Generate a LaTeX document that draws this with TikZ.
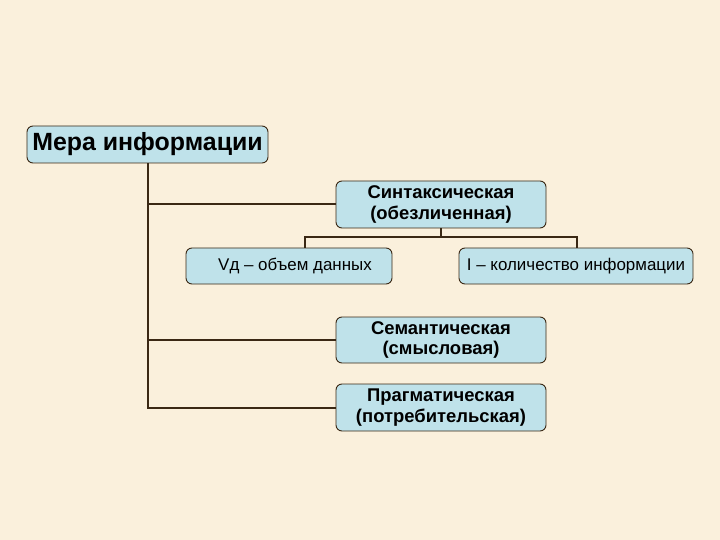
\documentclass[tikz,border=0pt]{standalone}
\usepackage{fontspec}
\setmainfont{Liberation Sans}
\usetikzlibrary{positioning}
\definecolor{pozadina}{HTML}{FAF0DC}
\definecolor{plava}{HTML}{BFE2EA}
\definecolor{smedja}{HTML}{3A2814}

\begin{document}
\begin{tikzpicture}[x=1bp, y=-1bp,
  box/.style={rectangle, rounded corners=6bp, draw=smedja, fill=plava, line width=0.9bp,
              inner sep=1bp, align=center, text=black},
  glavni/.style={box, font=\fontsize{25}{28}\selectfont\bfseries},
  vrsta/.style={box, font=\fontsize{18.5}{21}\selectfont\bfseries},
  mera/.style={box, font=\fontsize{17}{20}\selectfont},
  veza/.style={draw=smedja, line width=2bp}
]
\fill[pozadina] (0,0) rectangle (720,540);
\useasboundingbox (0,0) rectangle (720,540);

\node[glavni, minimum width=241bp, minimum height=37bp] (mi) at (147.5,144.5) {Мера информации};
\node[vrsta, minimum width=210bp, minimum height=47bp] (sint) at (441,204.5) {Синтаксическая\\(обезличенная)};
\node[mera, minimum width=206bp, minimum height=36bp] (vd) at (289,266) {\hspace{12bp}Vд – объем данных};
\node[mera, minimum width=234bp, minimum height=36bp] (kol) at (576,266) {I – количество информации};
\node[vrsta, minimum width=210bp, minimum height=46bp] (sem) at (441,340) {Семантическая\\(смысловая)};
\node[vrsta, minimum width=210bp, minimum height=47bp] (prag) at (441,407.5) {Прагматическая\\(потребительская)};

% stablo
\coordinate (ras) at (441,237);
\coordinate (levo) at (305,237);
\coordinate (desno) at (577,237);
\draw[veza] (mi.south) -- (mi.south |- prag.west) -- (prag.west);
\draw[veza] (mi.south |- sint.west) -- (sint.west);
\draw[veza] (mi.south |- sem.west) -- (sem.west);
\draw[veza] (sint.south) -- (ras);
\draw[veza] (levo |- vd.north) -- (levo) -- (desno) -- (desno |- kol.north);
\end{tikzpicture}
\end{document}
